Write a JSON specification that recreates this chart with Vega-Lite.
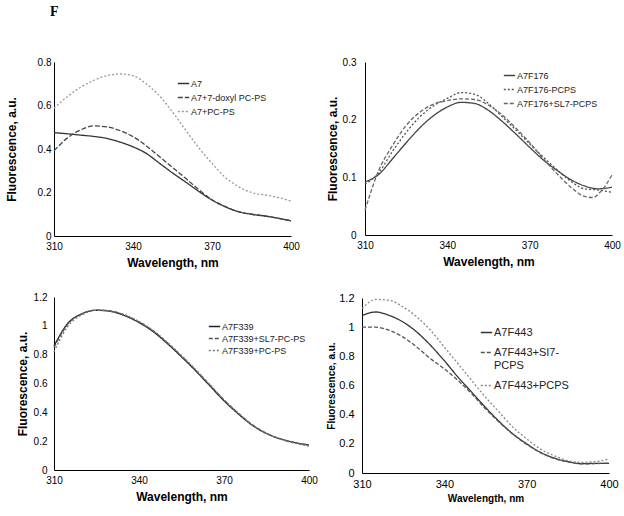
{
  "$schema": "https://vega.github.io/schema/vega-lite/v6.json",
  "background": "white",
  "padding": 5,
  "title": {"text": "F", "anchor": "start", "font": "Liberation Serif", "fontSize": 14, "fontWeight": "bold", "dx": 45, "offset": 38, "color": "black"},
  "config": {
    "view": {"stroke": null},
    "font": "Liberation Sans",
    "axis": {"grid": false, "ticks": false, "domainColor": "black", "labelColor": "black", "titleColor": "black", "labelFont": "Liberation Sans", "titleFont": "Liberation Sans", "labelFontSize": 10, "titleFontSize": 12, "titleFontWeight": "bold", "labelFlush": false, "labelPadding": 5},
    "axisX": {"titlePadding": 6},
    "legend": {"orient": "none", "title": null, "symbolType": "stroke", "symbolSize": 130, "symbolStrokeWidth": 1.5, "labelFontSize": 9, "labelFont": "Liberation Sans", "labelColor": "#222", "rowPadding": 2, "labelOffset": 1, "padding": 0}
  },
  "columns": 2,
  "align": "none",
  "spacing": {"row": 24, "column": 8},
  "resolve": {
    "scale": {"color": "independent", "strokeDash": "independent"},
    "legend": {"color": "independent", "strokeDash": "independent"}
  },
  "concat": [
        {
          "width": 237, "height": 174,
          "data": {"values": [
            {"w":310,"f":0.475,"s":"A7"},{"w":315,"f":0.47,"s":"A7"},{"w":320,"f":0.464,"s":"A7"},{"w":325,"f":0.458,"s":"A7"},{"w":330,"f":0.449,"s":"A7"},{"w":335,"f":0.432,"s":"A7"},{"w":340,"f":0.41,"s":"A7"},{"w":345,"f":0.38,"s":"A7"},{"w":350,"f":0.335,"s":"A7"},{"w":355,"f":0.29,"s":"A7"},{"w":360,"f":0.248,"s":"A7"},{"w":365,"f":0.205,"s":"A7"},{"w":370,"f":0.165,"s":"A7"},{"w":375,"f":0.135,"s":"A7"},{"w":380,"f":0.112,"s":"A7"},{"w":385,"f":0.1,"s":"A7"},{"w":390,"f":0.092,"s":"A7"},{"w":395,"f":0.082,"s":"A7"},{"w":400,"f":0.069,"s":"A7"},
            {"w":310,"f":0.392,"s":"A7+7-doxyl PC-PS"},{"w":315,"f":0.45,"s":"A7+7-doxyl PC-PS"},{"w":320,"f":0.487,"s":"A7+7-doxyl PC-PS"},{"w":325,"f":0.506,"s":"A7+7-doxyl PC-PS"},{"w":330,"f":0.502,"s":"A7+7-doxyl PC-PS"},{"w":335,"f":0.485,"s":"A7+7-doxyl PC-PS"},{"w":340,"f":0.457,"s":"A7+7-doxyl PC-PS"},{"w":345,"f":0.415,"s":"A7+7-doxyl PC-PS"},{"w":350,"f":0.365,"s":"A7+7-doxyl PC-PS"},{"w":355,"f":0.315,"s":"A7+7-doxyl PC-PS"},{"w":360,"f":0.265,"s":"A7+7-doxyl PC-PS"},{"w":365,"f":0.213,"s":"A7+7-doxyl PC-PS"},{"w":370,"f":0.167,"s":"A7+7-doxyl PC-PS"},{"w":375,"f":0.135,"s":"A7+7-doxyl PC-PS"},{"w":380,"f":0.112,"s":"A7+7-doxyl PC-PS"},{"w":385,"f":0.1,"s":"A7+7-doxyl PC-PS"},{"w":390,"f":0.092,"s":"A7+7-doxyl PC-PS"},{"w":395,"f":0.082,"s":"A7+7-doxyl PC-PS"},{"w":400,"f":0.07,"s":"A7+7-doxyl PC-PS"},
            {"w":310,"f":0.587,"s":"A7+PC-PS"},{"w":315,"f":0.64,"s":"A7+PC-PS"},{"w":320,"f":0.683,"s":"A7+PC-PS"},{"w":325,"f":0.715,"s":"A7+PC-PS"},{"w":330,"f":0.737,"s":"A7+PC-PS"},{"w":335,"f":0.745,"s":"A7+PC-PS"},{"w":340,"f":0.737,"s":"A7+PC-PS"},{"w":345,"f":0.7,"s":"A7+PC-PS"},{"w":350,"f":0.645,"s":"A7+PC-PS"},{"w":355,"f":0.57,"s":"A7+PC-PS"},{"w":360,"f":0.487,"s":"A7+PC-PS"},{"w":365,"f":0.405,"s":"A7+PC-PS"},{"w":370,"f":0.334,"s":"A7+PC-PS"},{"w":375,"f":0.27,"s":"A7+PC-PS"},{"w":380,"f":0.227,"s":"A7+PC-PS"},{"w":385,"f":0.2,"s":"A7+PC-PS"},{"w":390,"f":0.189,"s":"A7+PC-PS"},{"w":395,"f":0.177,"s":"A7+PC-PS"},{"w":400,"f":0.161,"s":"A7+PC-PS"}
          ]},
          "mark": {"type": "line", "interpolate": "monotone", "strokeWidth": 1.3},
          "encoding": {
            "x": {"field": "w", "type": "quantitative", "scale": {"domain": [310, 400]}, "axis": {"values": [310, 340, 370, 400], "title": "Wavelength, nm"}},
            "y": {"field": "f", "type": "quantitative", "scale": {"domain": [0, 0.8]}, "axis": {"values": [0, 0.2, 0.4, 0.6, 0.8], "format": "~g", "title": "Fluorescence, a.u.", "labelPadding": 3, "titlePadding": 19}},
            "color": {"field": "s", "type": "nominal", "scale": {"domain": ["A7", "A7+7-doxyl PC-PS", "A7+PC-PS"], "range": ["#333333", "#444444", "#999999"]}, "legend": {"legendX": 123, "legendY": 15}},
            "strokeDash": {"field": "s", "type": "nominal", "scale": {"domain": ["A7", "A7+7-doxyl PC-PS", "A7+PC-PS"], "range": [[1, 0], [5, 2], [2, 2]]}}
          }
        },
        {
          "width": 247, "height": 173,
          "data": {"values": [
            {"w":310,"f":0.092,"s":"A7F176"},{"w":315,"f":0.105,"s":"A7F176"},{"w":320,"f":0.132,"s":"A7F176"},{"w":325,"f":0.16,"s":"A7F176"},{"w":330,"f":0.186,"s":"A7F176"},{"w":335,"f":0.207,"s":"A7F176"},{"w":340,"f":0.222,"s":"A7F176"},{"w":345,"f":0.23,"s":"A7F176"},{"w":350,"f":0.228,"s":"A7F176"},{"w":355,"f":0.216,"s":"A7F176"},{"w":360,"f":0.197,"s":"A7F176"},{"w":365,"f":0.175,"s":"A7F176"},{"w":370,"f":0.152,"s":"A7F176"},{"w":375,"f":0.13,"s":"A7F176"},{"w":380,"f":0.112,"s":"A7F176"},{"w":385,"f":0.096,"s":"A7F176"},{"w":390,"f":0.085,"s":"A7F176"},{"w":395,"f":0.08,"s":"A7F176"},{"w":400,"f":0.083,"s":"A7F176"},
            {"w":310,"f":0.088,"s":"A7F176-PCPS"},{"w":315,"f":0.108,"s":"A7F176-PCPS"},{"w":320,"f":0.145,"s":"A7F176-PCPS"},{"w":325,"f":0.178,"s":"A7F176-PCPS"},{"w":330,"f":0.205,"s":"A7F176-PCPS"},{"w":335,"f":0.224,"s":"A7F176-PCPS"},{"w":340,"f":0.237,"s":"A7F176-PCPS"},{"w":345,"f":0.247,"s":"A7F176-PCPS"},{"w":350,"f":0.244,"s":"A7F176-PCPS"},{"w":355,"f":0.228,"s":"A7F176-PCPS"},{"w":360,"f":0.205,"s":"A7F176-PCPS"},{"w":365,"f":0.182,"s":"A7F176-PCPS"},{"w":370,"f":0.158,"s":"A7F176-PCPS"},{"w":375,"f":0.135,"s":"A7F176-PCPS"},{"w":380,"f":0.113,"s":"A7F176-PCPS"},{"w":385,"f":0.093,"s":"A7F176-PCPS"},{"w":390,"f":0.08,"s":"A7F176-PCPS"},{"w":395,"f":0.078,"s":"A7F176-PCPS"},{"w":400,"f":0.074,"s":"A7F176-PCPS"},
            {"w":310,"f":0.043,"s":"A7F176+SL7-PCPS"},{"w":315,"f":0.112,"s":"A7F176+SL7-PCPS"},{"w":320,"f":0.155,"s":"A7F176+SL7-PCPS"},{"w":325,"f":0.19,"s":"A7F176+SL7-PCPS"},{"w":330,"f":0.213,"s":"A7F176+SL7-PCPS"},{"w":335,"f":0.227,"s":"A7F176+SL7-PCPS"},{"w":340,"f":0.233,"s":"A7F176+SL7-PCPS"},{"w":345,"f":0.236,"s":"A7F176+SL7-PCPS"},{"w":350,"f":0.235,"s":"A7F176+SL7-PCPS"},{"w":355,"f":0.225,"s":"A7F176+SL7-PCPS"},{"w":360,"f":0.208,"s":"A7F176+SL7-PCPS"},{"w":365,"f":0.185,"s":"A7F176+SL7-PCPS"},{"w":370,"f":0.16,"s":"A7F176+SL7-PCPS"},{"w":375,"f":0.132,"s":"A7F176+SL7-PCPS"},{"w":380,"f":0.106,"s":"A7F176+SL7-PCPS"},{"w":385,"f":0.083,"s":"A7F176+SL7-PCPS"},{"w":390,"f":0.067,"s":"A7F176+SL7-PCPS"},{"w":393,"f":0.065,"s":"A7F176+SL7-PCPS"},{"w":396,"f":0.076,"s":"A7F176+SL7-PCPS"},{"w":400,"f":0.104,"s":"A7F176+SL7-PCPS"}
          ]},
          "mark": {"type": "line", "interpolate": "monotone", "strokeWidth": 1.3},
          "encoding": {
            "x": {"field": "w", "type": "quantitative", "scale": {"domain": [310, 400]}, "axis": {"values": [310, 340, 370, 400], "title": "Wavelength, nm"}},
            "y": {"field": "f", "type": "quantitative", "scale": {"domain": [0, 0.3]}, "axis": {"values": [0, 0.1, 0.2, 0.3], "format": "~g", "title": "Fluorescence, a.u.", "labelPadding": 9, "titlePadding": 3}},
            "color": {"field": "s", "type": "nominal", "scale": {"domain": ["A7F176", "A7F176-PCPS", "A7F176+SL7-PCPS"], "range": ["#444444", "#555555", "#666666"]}, "legend": {"legendX": 138, "legendY": 7}},
            "strokeDash": {"field": "s", "type": "nominal", "scale": {"domain": ["A7F176", "A7F176-PCPS", "A7F176+SL7-PCPS"], "range": [[1, 0], [2, 2], [4, 2]]}}
          }
        },
        {
          "width": 255, "height": 173,
          "data": {"values": [
            {"w":310,"f":0.86,"s":"A7F339"},{"w":315,"f":1.02,"s":"A7F339"},{"w":320,"f":1.085,"s":"A7F339"},{"w":325,"f":1.108,"s":"A7F339"},{"w":330,"f":1.1,"s":"A7F339"},{"w":335,"f":1.07,"s":"A7F339"},{"w":340,"f":1.023,"s":"A7F339"},{"w":345,"f":0.96,"s":"A7F339"},{"w":350,"f":0.877,"s":"A7F339"},{"w":355,"f":0.785,"s":"A7F339"},{"w":360,"f":0.688,"s":"A7F339"},{"w":365,"f":0.584,"s":"A7F339"},{"w":370,"f":0.48,"s":"A7F339"},{"w":375,"f":0.39,"s":"A7F339"},{"w":380,"f":0.31,"s":"A7F339"},{"w":385,"f":0.253,"s":"A7F339"},{"w":390,"f":0.215,"s":"A7F339"},{"w":395,"f":0.19,"s":"A7F339"},{"w":400,"f":0.173,"s":"A7F339"},
            {"w":310,"f":0.85,"s":"A7F339+SL7-PC-PS"},{"w":315,"f":1.015,"s":"A7F339+SL7-PC-PS"},{"w":320,"f":1.085,"s":"A7F339+SL7-PC-PS"},{"w":325,"f":1.11,"s":"A7F339+SL7-PC-PS"},{"w":330,"f":1.103,"s":"A7F339+SL7-PC-PS"},{"w":335,"f":1.074,"s":"A7F339+SL7-PC-PS"},{"w":340,"f":1.028,"s":"A7F339+SL7-PC-PS"},{"w":345,"f":0.965,"s":"A7F339+SL7-PC-PS"},{"w":350,"f":0.882,"s":"A7F339+SL7-PC-PS"},{"w":355,"f":0.79,"s":"A7F339+SL7-PC-PS"},{"w":360,"f":0.693,"s":"A7F339+SL7-PC-PS"},{"w":365,"f":0.59,"s":"A7F339+SL7-PC-PS"},{"w":370,"f":0.486,"s":"A7F339+SL7-PC-PS"},{"w":375,"f":0.395,"s":"A7F339+SL7-PC-PS"},{"w":380,"f":0.314,"s":"A7F339+SL7-PC-PS"},{"w":385,"f":0.255,"s":"A7F339+SL7-PC-PS"},{"w":390,"f":0.216,"s":"A7F339+SL7-PC-PS"},{"w":395,"f":0.19,"s":"A7F339+SL7-PC-PS"},{"w":400,"f":0.172,"s":"A7F339+SL7-PC-PS"},
            {"w":310,"f":0.82,"s":"A7F339+PC-PS"},{"w":315,"f":1.0,"s":"A7F339+PC-PS"},{"w":320,"f":1.078,"s":"A7F339+PC-PS"},{"w":325,"f":1.108,"s":"A7F339+PC-PS"},{"w":330,"f":1.104,"s":"A7F339+PC-PS"},{"w":335,"f":1.076,"s":"A7F339+PC-PS"},{"w":340,"f":1.03,"s":"A7F339+PC-PS"},{"w":345,"f":0.968,"s":"A7F339+PC-PS"},{"w":350,"f":0.886,"s":"A7F339+PC-PS"},{"w":355,"f":0.794,"s":"A7F339+PC-PS"},{"w":360,"f":0.697,"s":"A7F339+PC-PS"},{"w":365,"f":0.592,"s":"A7F339+PC-PS"},{"w":370,"f":0.488,"s":"A7F339+PC-PS"},{"w":375,"f":0.396,"s":"A7F339+PC-PS"},{"w":380,"f":0.313,"s":"A7F339+PC-PS"},{"w":385,"f":0.254,"s":"A7F339+PC-PS"},{"w":390,"f":0.213,"s":"A7F339+PC-PS"},{"w":395,"f":0.186,"s":"A7F339+PC-PS"},{"w":400,"f":0.165,"s":"A7F339+PC-PS"}
          ]},
          "mark": {"type": "line", "interpolate": "monotone", "strokeWidth": 1.3},
          "encoding": {
            "x": {"field": "w", "type": "quantitative", "scale": {"domain": [310, 400]}, "axis": {"values": [310, 340, 370, 400], "title": "Wavelength, nm"}},
            "y": {"field": "f", "type": "quantitative", "scale": {"domain": [0, 1.2]}, "axis": {"values": [0, 0.2, 0.4, 0.6, 0.8, 1, 1.2], "format": "~g", "title": "Fluorescence, a.u.", "labelPadding": 7, "titlePadding": 4}},
            "color": {"field": "s", "type": "nominal", "scale": {"domain": ["A7F339", "A7F339+SL7-PC-PS", "A7F339+PC-PS"], "range": ["#222222", "#555555", "#777777"]}, "legend": {"legendX": 154, "legendY": 23, "rowPadding": 0}},
            "strokeDash": {"field": "s", "type": "nominal", "scale": {"domain": ["A7F339", "A7F339+SL7-PC-PS", "A7F339+PC-PS"], "range": [[1, 0], [4, 2], [2, 2]]}}
          }
        },
        {
          "width": 247, "height": 175,
          "data": {"values": [
            {"w":310,"f":1.08,"s":"A7F443"},{"w":315,"f":1.104,"s":"A7F443"},{"w":320,"f":1.08,"s":"A7F443"},{"w":325,"f":1.035,"s":"A7F443"},{"w":330,"f":0.966,"s":"A7F443"},{"w":335,"f":0.875,"s":"A7F443"},{"w":340,"f":0.77,"s":"A7F443"},{"w":345,"f":0.657,"s":"A7F443"},{"w":350,"f":0.554,"s":"A7F443"},{"w":355,"f":0.45,"s":"A7F443"},{"w":360,"f":0.353,"s":"A7F443"},{"w":365,"f":0.268,"s":"A7F443"},{"w":370,"f":0.2,"s":"A7F443"},{"w":375,"f":0.142,"s":"A7F443"},{"w":380,"f":0.103,"s":"A7F443"},{"w":385,"f":0.078,"s":"A7F443"},{"w":390,"f":0.064,"s":"A7F443"},{"w":395,"f":0.066,"s":"A7F443"},{"w":400,"f":0.066,"s":"A7F443"},
            {"w":310,"f":1.0,"s":"A7F443+SI7-PCPS"},{"w":315,"f":1.0,"s":"A7F443+SI7-PCPS"},{"w":320,"f":0.978,"s":"A7F443+SI7-PCPS"},{"w":325,"f":0.932,"s":"A7F443+SI7-PCPS"},{"w":330,"f":0.863,"s":"A7F443+SI7-PCPS"},{"w":335,"f":0.783,"s":"A7F443+SI7-PCPS"},{"w":340,"f":0.714,"s":"A7F443+SI7-PCPS"},{"w":345,"f":0.634,"s":"A7F443+SI7-PCPS"},{"w":350,"f":0.543,"s":"A7F443+SI7-PCPS"},{"w":355,"f":0.44,"s":"A7F443+SI7-PCPS"},{"w":360,"f":0.348,"s":"A7F443+SI7-PCPS"},{"w":365,"f":0.265,"s":"A7F443+SI7-PCPS"},{"w":370,"f":0.196,"s":"A7F443+SI7-PCPS"},{"w":375,"f":0.14,"s":"A7F443+SI7-PCPS"},{"w":380,"f":0.1,"s":"A7F443+SI7-PCPS"},{"w":385,"f":0.076,"s":"A7F443+SI7-PCPS"},{"w":390,"f":0.062,"s":"A7F443+SI7-PCPS"},{"w":395,"f":0.064,"s":"A7F443+SI7-PCPS"},{"w":400,"f":0.068,"s":"A7F443+SI7-PCPS"},
            {"w":310,"f":1.127,"s":"A7F443+PCPS"},{"w":315,"f":1.19,"s":"A7F443+PCPS"},{"w":320,"f":1.184,"s":"A7F443+PCPS"},{"w":325,"f":1.138,"s":"A7F443+PCPS"},{"w":330,"f":1.07,"s":"A7F443+PCPS"},{"w":335,"f":0.978,"s":"A7F443+PCPS"},{"w":340,"f":0.863,"s":"A7F443+PCPS"},{"w":345,"f":0.749,"s":"A7F443+PCPS"},{"w":350,"f":0.634,"s":"A7F443+PCPS"},{"w":355,"f":0.52,"s":"A7F443+PCPS"},{"w":360,"f":0.417,"s":"A7F443+PCPS"},{"w":365,"f":0.314,"s":"A7F443+PCPS"},{"w":370,"f":0.234,"s":"A7F443+PCPS"},{"w":375,"f":0.165,"s":"A7F443+PCPS"},{"w":380,"f":0.119,"s":"A7F443+PCPS"},{"w":385,"f":0.085,"s":"A7F443+PCPS"},{"w":390,"f":0.073,"s":"A7F443+PCPS"},{"w":395,"f":0.078,"s":"A7F443+PCPS"},{"w":400,"f":0.096,"s":"A7F443+PCPS"}
          ]},
          "mark": {"type": "line", "interpolate": "monotone", "strokeWidth": 1.3},
          "encoding": {
            "x": {"field": "w", "type": "quantitative", "scale": {"domain": [310, 400]}, "axis": {"values": [310, 340, 370, 400], "title": "Wavelength, nm", "titleFontSize": 10, "labelFontSize": 11, "titlePadding": 4}},
            "y": {"field": "f", "type": "quantitative", "scale": {"domain": [0, 1.2]}, "axis": {"values": [0, 0.2, 0.4, 0.6, 0.8, 1, 1.2], "format": "~g", "title": "Fluorescence, a.u.", "titleFontSize": 10, "labelFontSize": 11, "labelPadding": 8, "titlePadding": 2}},
            "color": {"field": "s", "type": "nominal", "scale": {"domain": ["A7F443", "A7F443+SI7-PCPS", "A7F443+PCPS"], "range": ["#333333", "#555555", "#888888"]}, "legend": {"legendX": 118, "legendY": 28, "labelFontSize": 11, "rowPadding": 8, "labelExpr": "datum.label == 'A7F443+SI7-PCPS' ? ['A7F443+SI7-', 'PCPS'] : datum.label"}},
            "strokeDash": {"field": "s", "type": "nominal", "scale": {"domain": ["A7F443", "A7F443+SI7-PCPS", "A7F443+PCPS"], "range": [[1, 0], [4, 2], [2, 2]]}}
          }
        }
  ]
}
